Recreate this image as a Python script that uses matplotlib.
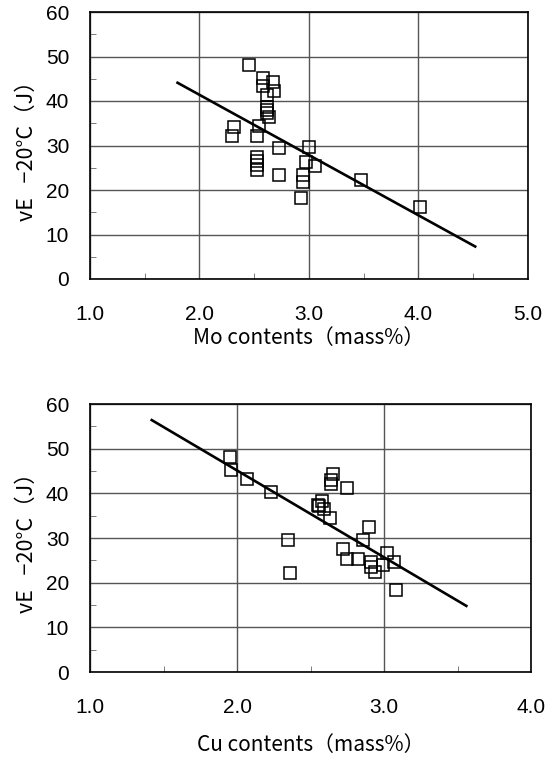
import matplotlib
matplotlib.use("Agg")
import matplotlib.pyplot as plt
from matplotlib.ticker import MultipleLocator

# ---- Data ----
mo_x = [2.45, 2.58, 2.67, 2.58, 2.68, 2.62, 2.62, 2.62, 2.62, 2.64,
        2.32, 2.30, 2.54, 2.53, 2.73, 3.00, 2.97, 3.06,
        2.53, 2.53, 2.53, 2.53, 2.73, 2.95, 2.95, 2.93, 3.48, 4.02]
mo_y = [48.1, 45.1, 44.3, 43.4, 42.3, 41.3, 38.7, 38.0, 37.2, 36.3,
        34.2, 32.1, 34.4, 32.2, 29.4, 29.6, 26.2, 25.4,
        27.5, 26.5, 25.6, 24.5, 23.4, 23.4, 21.9, 18.1, 22.2, 16.2]
mo_fit_x = [1.80, 4.52]
mo_fit_y = [44.1, 7.3]

cu_x = [1.95, 1.96, 2.07, 2.23, 2.35, 2.36, 2.55,
        2.65, 2.64, 2.64, 2.75, 2.58, 2.56, 2.59, 2.63,
        2.90, 2.86, 2.72, 2.75, 2.82, 2.91, 2.91, 2.94,
        3.02, 2.99, 3.07, 3.08]
cu_y = [48.2, 45.3, 43.3, 40.3, 29.5, 22.2, 37.4,
        44.3, 43.0, 42.2, 41.3, 38.3, 37.1, 36.4, 34.4,
        32.4, 29.5, 27.5, 25.4, 25.4, 24.7, 23.6, 22.4,
        26.6, 23.9, 24.7, 18.3]
cu_fit_x = [1.42, 3.56]
cu_fit_y = [56.4, 14.8]

ylabel = "vE   −20°C（J）"
mo_label = "Mo contents（mass%）"
cu_label = "Cu contents（mass%）"
mo_ticks = [1.0, 2.0, 3.0, 4.0, 5.0]
cu_ticks = [1.0, 2.0, 3.0, 4.0]
y_ticks = [0, 10, 20, 30, 40, 50, 60]

plt.rcParams['font.family'] = ['Noto Sans CJK JP', 'DejaVu Sans']

fig = plt.figure(figsize=(5.45, 7.58), dpi=100)
ax1 = fig.add_axes([90/545, 1-279/758, (527.7-90)/545, (279-12)/758])
ax2 = fig.add_axes([90/545, 1-672/758, (531-90)/545, (672-404)/758])

def style(ax, xticks, xlabel, xl_y):
    ax.set_xlim(xticks[0], xticks[-1])
    ax.set_ylim(0, 60)
    ax.set_xticks(xticks)
    ax.set_xticklabels([f"{t:.1f}" for t in xticks])
    ax.set_yticks(y_ticks)
    ax.xaxis.set_minor_locator(MultipleLocator(0.5))
    ax.yaxis.set_minor_locator(MultipleLocator(5))
    ax.grid(True, which='major', color='#555555', linewidth=1.0)
    ax.set_axisbelow(True)
    ax.tick_params(which='both', direction='in', top=False, right=False)
    ax.tick_params(which='major', length=0, labelsize=15,
                   labelfontfamily='Liberation Sans')
    ax.tick_params(which='minor', length=4, width=0.6, color='#666666')
    ax.tick_params(axis='x', which='major', pad=19)
    ax.tick_params(axis='y', which='major', pad=15)
    for s in ax.spines.values():
        s.set_color('black')
        s.set_linewidth(1.2)
    ax.set_xlabel(xlabel, fontsize=15, va='center')
    ax.xaxis.set_label_coords(0.5, xl_y)
    ax.set_ylabel(ylabel, fontsize=15.5, va='center')
    ax.yaxis.set_label_coords(-0.144, 0.5)

style(ax1, mo_ticks, mo_label, -0.221)
style(ax2, cu_ticks, cu_label, -0.272)

for ax, x, y, fx, fy in [(ax1, mo_x, mo_y, mo_fit_x, mo_fit_y),
                         (ax2, cu_x, cu_y, cu_fit_x, cu_fit_y)]:
    ax.plot(fx, fy, color='black', linewidth=1.9, zorder=3)
    ax.plot(x, y, linestyle='none', marker='s', markersize=8.5,
            markerfacecolor='none', markeredgecolor='black',
            markeredgewidth=1.1, zorder=4)

fig.savefig("out.png", dpi=100)
